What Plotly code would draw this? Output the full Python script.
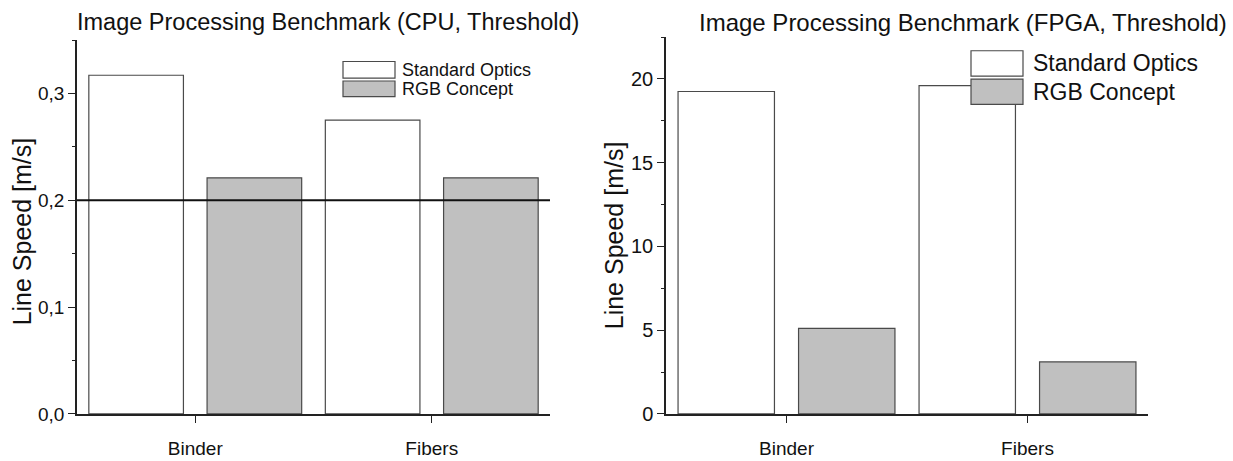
import plotly.graph_objects as go

W, H = 1233, 461

categories = ["Binder", "Fibers"]
series_names = ["Standard Optics", "RGB Concept"]
cpu_standard = [0.317, 0.275]
cpu_rgb = [0.221, 0.221]
fpga_standard = [19.25, 19.6]
fpga_rgb = [5.1, 3.1]
cpu_threshold = 0.2
cpu_ticks = [0.0, 0.1, 0.2, 0.3]
cpu_ticktext = ["0,0", "0,1", "0,2", "0,3"]
fpga_ticks = [0, 5, 10, 15, 20]
titles = ["Image Processing Benchmark (CPU, Threshold)",
          "Image Processing Benchmark (FPGA, Threshold)"]
ytitle = "Line Speed [m/s]"

FONT = "Liberation Sans, Arial, sans-serif"
WHITE = "#ffffff"
GREY = "#c0c0c0"
EDGE = "#4a4a4a"
INK = "#111111"

def px(x):
    return x / W

def py(y):
    return 1 - y / H

fig = go.Figure()

for xa, ya, std, rgb in [("x", "y", cpu_standard, cpu_rgb), ("x2", "y2", fpga_standard, fpga_rgb)]:
    fig.add_trace(go.Bar(x=categories, y=std, xaxis=xa, yaxis=ya, width=0.4, offset=-0.45,
                         marker=dict(color=WHITE, line=dict(color=EDGE, width=1.2)),
                         showlegend=False, name=series_names[0]))
    fig.add_trace(go.Bar(x=categories, y=rgb, xaxis=xa, yaxis=ya, width=0.4, offset=0.05,
                         marker=dict(color=GREY, line=dict(color=EDGE, width=1.2)),
                         showlegend=False, name=series_names[1]))

def axis(size, **kw):
    d = dict(showline=True, linecolor="#222", linewidth=1.5, ticks="outside",
             ticklen=7, tickwidth=1.2, tickcolor="#222", showgrid=False, zeroline=False,
             tickfont=dict(family=FONT, size=size, color=INK))
    d.update(kw)
    return d

fig.update_layout(
    width=W, height=H, margin=dict(l=0, r=0, t=0, b=0),
    paper_bgcolor="white", plot_bgcolor="white", barmode="overlay",
    font=dict(family=FONT, color=INK),
    xaxis=axis(19, domain=[px(77), px(550)], range=[-0.5, 1.5], anchor="y", ticklabelstandoff=10),
    yaxis=axis(19, domain=[py(424), py(41)], range=[0, 0.35], anchor="x",
               tickvals=cpu_ticks, ticktext=cpu_ticktext,
               minor=dict(ticks="outside", ticklen=3, tickcolor="#222", dtick=0.05, showgrid=False)),
    xaxis2=axis(19, domain=[px(666), px(1148)], range=[-0.5, 1.5], anchor="y2", ticklabelstandoff=10),
    yaxis2=axis(20, domain=[py(424), py(38)], range=[0, 22.5], anchor="x2",
                tickvals=fpga_ticks,
                minor=dict(ticks="outside", ticklen=3, tickcolor="#222", dtick=2.5, showgrid=False)),
)

# threshold line on CPU chart
fig.add_shape(type="line", xref="x domain", yref="y", x0=0, x1=1,
              y0=cpu_threshold, y1=cpu_threshold, line=dict(color=INK, width=2))

# titles
fig.add_annotation(text=titles[0], xref="paper", yref="paper", x=px(75), y=py(23),
                   xanchor="left", yanchor="middle", showarrow=False,
                   font=dict(family=FONT, size=23.5, color=INK))
fig.add_annotation(text=titles[1], xref="paper", yref="paper", x=px(697), y=py(23),
                   xanchor="left", yanchor="middle", showarrow=False,
                   font=dict(family=FONT, size=24, color=INK))

# y axis titles
for xpos, ypos in [(22, 237), (614, 241)]:
    fig.add_annotation(text=ytitle, xref="paper", yref="paper", x=px(xpos), y=py(ypos),
                       textangle=-90, xanchor="center", yanchor="middle", showarrow=False,
                       font=dict(family=FONT, size=25, color=INK))

# legends (manual boxes to match reference sizing)
legends = [
    dict(x0=343, x1=395, rows=[(63, 80), (83, 99)], tx=400, size=18),
    dict(x0=971, x1=1023, rows=[(52, 78), (81, 107)], tx=1031, size=23),
]
fills = [WHITE, GREY]
for lg in legends:
    for (y0, y1), name, fill in zip(lg["rows"], series_names, fills):
        fig.add_shape(type="rect", xref="paper", yref="paper",
                      x0=px(lg["x0"]), x1=px(lg["x1"]), y0=py(y1), y1=py(y0),
                      fillcolor=fill, line=dict(color=EDGE, width=1.2))
        fig.add_annotation(text=name, xref="paper", yref="paper", x=px(lg["tx"]),
                           y=py((y0 + y1) / 2), xanchor="left", yanchor="middle",
                           showarrow=False, font=dict(family=FONT, size=lg["size"], color=INK))

fig.write_html("out.html")
